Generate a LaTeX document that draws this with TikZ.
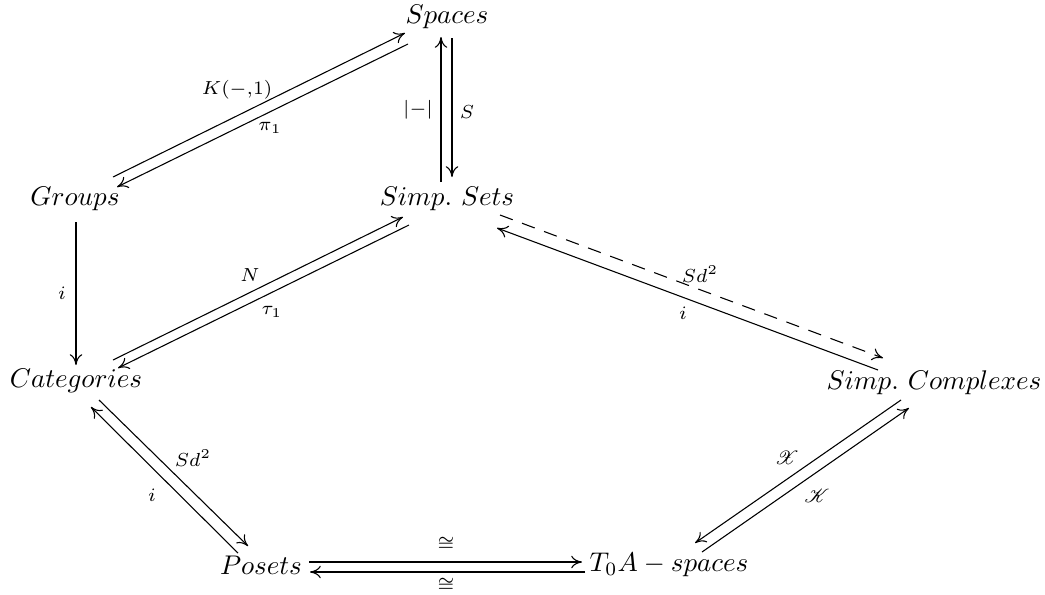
\documentclass[tikz,border=0pt]{standalone}
\usepackage{mathrsfs}
\usetikzlibrary{arrows.meta}
\begin{document}
\begin{tikzpicture}[x=0.37pt,y=-0.37pt,
  obj/.style={inner sep=0pt, anchor=center},
  lbl/.style={inner sep=0pt},
  tip/.style={-{Computer Modern Rightarrow[length=4pt,width=4.6pt,line width=0.4pt]}},
  thinar/.style={tip, line width=0.4pt},
  thickar/.style={tip, line width=1pt},
  dashar/.style={thinar, dash pattern=on 5pt off 3.7pt}
]
\useasboundingbox (0,0) rectangle (1045,594);

% objects
\node[obj] (Sp) at (447,17)  {$Spaces$};
\node[obj] (G)  at (75,199)  {$Groups$};
\node[obj] (SS) at (447,199) {$Simp.\ Sets$};
\node[obj] (C)  at (76,381)  {$Categories$};
\node[obj] (SC) at (934,383) {$Simp.\ Complexes$};
\node[obj] (P)  at (261,565) {$Posets$};
\node[obj] (T)  at (669,565) {$T_0A-spaces$};

% Spaces <-> Simp. Sets
\draw[thickar] ([shift={(-6,-17)}]SS.center) -- ([shift={(-6,20)}]Sp.center);
\draw[thickar] ([shift={(5,21)}]Sp.center) -- ([shift={(5,-22)}]SS.center);
\node[lbl] (lreal) at (418,110) {$\scriptstyle|-|$};
\node[lbl] (lS) at (467,112) {$\scriptstyle S$};

% Groups <-> Spaces
\draw[thinar] ([shift={(38,-22)}]G.center) -- ([shift={(-42,16)}]Sp.center);
\draw[thinar] ([shift={(-39,27)}]Sp.center) -- ([shift={(42,-12)}]G.center);
\node[lbl] (lK) at (237,90) {$\scriptstyle K(-,1)$};
\node[lbl] (lpi) at (270,128) {$\scriptstyle \pi_1$};

% Groups -> Categories
\draw[thickar] ([shift={(1,23)}]G.center) -- ([shift={(0,-16)}]C.center);
\node[lbl] (li1) at (62,293) {$\scriptstyle i$};

% Categories <-> Simp. Sets
\draw[thinar] ([shift={(37,-21)}]C.center) -- ([shift={(-44,18)}]SS.center);
\draw[thinar] ([shift={(-38,26)}]SS.center) -- ([shift={(42,-13)}]C.center);
\node[lbl] (lN) at (250,275) {$\scriptstyle N$};
\node[lbl] (ltau) at (272,312) {$\scriptstyle \tau_1$};

% Simp. Sets <-> Simp. Complexes
\draw[dashar] ([shift={(53,16)}]SS.center) -- ([shift={(-51,-25)}]SC.center);
\draw[thinar] ([shift={(-56,-13)}]SC.center) -- ([shift={(50,29)}]SS.center);
\node[lbl] (lSd1) at (700,274) {$\scriptstyle Sd^2$};
\node[lbl] (li2) at (683,313) {$\scriptstyle i$};

% Categories <-> Posets
\draw[thinar] ([shift={(23,19)}]C.center) -- ([shift={(-13,-19)}]P.center);
\draw[thinar] ([shift={(-23,-12)}]P.center) -- ([shift={(15,26)}]C.center);
\node[lbl] (lSd2) at (193,458) {$\scriptstyle Sd^2$};
\node[lbl] (li3) at (152,495) {$\scriptstyle i$};

% Posets <-> T0A-spaces
\draw[thickar] ([shift={(48,-3)}]P.center) -- ([shift={(-87,-3)}]T.center);
\draw[thickar] ([shift={(-84,7)}]T.center) -- ([shift={(49,7)}]P.center);
\node[lbl] (liso1) at (446,544) {$\scriptstyle\cong$};
\node[lbl] (liso2) at (446,585) {$\scriptstyle\cong$};

% Simp. Complexes <-> T0A-spaces
\draw[thinar] ([shift={(-33,17)}]SC.center) -- ([shift={(26,-22)}]T.center);
\draw[thinar] ([shift={(33,-13)}]T.center) -- ([shift={(-25,25)}]SC.center);
\node[lbl] (lX) at (787,458) {$\scriptstyle\mathscr{X}$};
\node[lbl] (lKs) at (817,496) {$\scriptstyle\mathscr{K}$};
\end{tikzpicture}
\end{document}
